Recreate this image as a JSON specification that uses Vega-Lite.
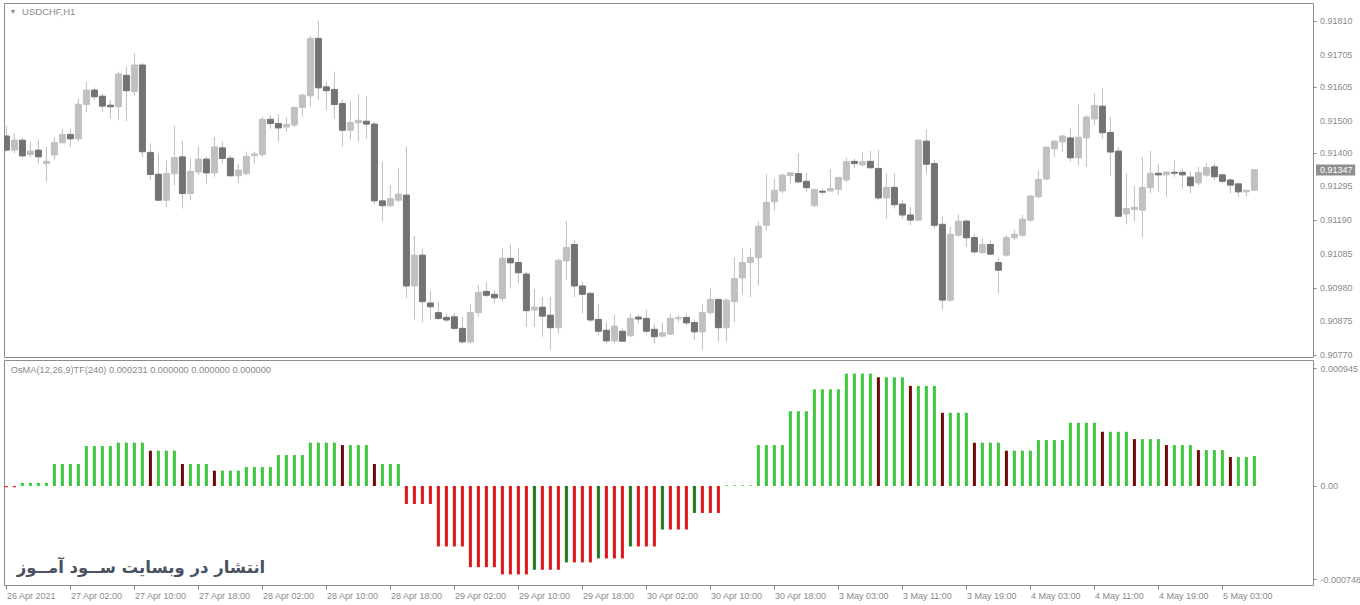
{
"$schema": "https://vega.github.io/schema/vega-lite/v6.json",
"padding": {"left": 3, "top": 2, "right": 0, "bottom": 0},
"background": "white",
"bounds": "flush",
"spacing": 3,
"config": {
 "view": {"stroke": "#8c8c8c", "strokeWidth": 1},
 "axis": {"grid": false, "domain": false, "labelFont": "Liberation Sans", "labelFontSize": 9, "labelColor": "#8a8a8a", "tickColor": "#8a8a8a", "title": null, "labelOverlap": false},
 "text": {"font": "Liberation Sans"}
},
"datasets": {
 "candles": [
{"i":0,"o":0.91452,"h":0.91483,"l":0.91403,"c":0.91408},
{"i":1,"o":0.91408,"h":0.91460,"l":0.91398,"c":0.91439},
{"i":2,"o":0.91439,"h":0.91447,"l":0.91387,"c":0.91390},
{"i":3,"o":0.91394,"h":0.91434,"l":0.91387,"c":0.91405},
{"i":4,"o":0.91408,"h":0.91441,"l":0.91366,"c":0.91387},
{"i":5,"o":0.91366,"h":0.91420,"l":0.91309,"c":0.91373},
{"i":6,"o":0.91393,"h":0.91449,"l":0.91379,"c":0.91432},
{"i":7,"o":0.91431,"h":0.91475,"l":0.91429,"c":0.91457},
{"i":8,"o":0.91457,"h":0.91475,"l":0.91418,"c":0.91443},
{"i":9,"o":0.91443,"h":0.91569,"l":0.91434,"c":0.91551},
{"i":10,"o":0.91550,"h":0.91621,"l":0.91527,"c":0.91595},
{"i":11,"o":0.91595,"h":0.91603,"l":0.91564,"c":0.91574},
{"i":12,"o":0.91576,"h":0.91584,"l":0.91527,"c":0.91545},
{"i":13,"o":0.91548,"h":0.91564,"l":0.91506,"c":0.91543},
{"i":14,"o":0.91543,"h":0.91652,"l":0.91501,"c":0.91645},
{"i":15,"o":0.91641,"h":0.91669,"l":0.91499,"c":0.91593},
{"i":16,"o":0.91590,"h":0.91709,"l":0.91579,"c":0.91673},
{"i":17,"o":0.91673,"h":0.91680,"l":0.91387,"c":0.91403},
{"i":18,"o":0.91401,"h":0.91429,"l":0.91315,"c":0.91332},
{"i":19,"o":0.91333,"h":0.91398,"l":0.91249,"c":0.91252},
{"i":20,"o":0.91252,"h":0.91377,"l":0.91231,"c":0.91335},
{"i":21,"o":0.91335,"h":0.91483,"l":0.91299,"c":0.91385},
{"i":22,"o":0.91387,"h":0.91437,"l":0.91226,"c":0.91273},
{"i":23,"o":0.91273,"h":0.91382,"l":0.91252,"c":0.91342},
{"i":24,"o":0.91340,"h":0.91421,"l":0.91330,"c":0.91380},
{"i":25,"o":0.91380,"h":0.91387,"l":0.91304,"c":0.91337},
{"i":26,"o":0.91337,"h":0.91449,"l":0.91325,"c":0.91418},
{"i":27,"o":0.91415,"h":0.91434,"l":0.91366,"c":0.91382},
{"i":28,"o":0.91383,"h":0.91392,"l":0.91325,"c":0.91328},
{"i":29,"o":0.91328,"h":0.91366,"l":0.91306,"c":0.91346},
{"i":30,"o":0.91335,"h":0.91403,"l":0.91330,"c":0.91389},
{"i":31,"o":0.91391,"h":0.91403,"l":0.91366,"c":0.91396},
{"i":32,"o":0.91394,"h":0.91512,"l":0.91387,"c":0.91504},
{"i":33,"o":0.91504,"h":0.91517,"l":0.91475,"c":0.91491},
{"i":34,"o":0.91491,"h":0.91520,"l":0.91434,"c":0.91477},
{"i":35,"o":0.91480,"h":0.91510,"l":0.91465,"c":0.91488},
{"i":36,"o":0.91486,"h":0.91543,"l":0.91480,"c":0.91541},
{"i":37,"o":0.91541,"h":0.91584,"l":0.91512,"c":0.91579},
{"i":38,"o":0.91577,"h":0.91763,"l":0.91543,"c":0.91756},
{"i":39,"o":0.91756,"h":0.91811,"l":0.91564,"c":0.91602},
{"i":40,"o":0.91605,"h":0.91621,"l":0.91532,"c":0.91593},
{"i":41,"o":0.91597,"h":0.91652,"l":0.91506,"c":0.91550},
{"i":42,"o":0.91553,"h":0.91567,"l":0.91420,"c":0.91470},
{"i":43,"o":0.91470,"h":0.91560,"l":0.91441,"c":0.91494},
{"i":44,"o":0.91493,"h":0.91582,"l":0.91434,"c":0.91501},
{"i":45,"o":0.91498,"h":0.91576,"l":0.91444,"c":0.91489},
{"i":46,"o":0.91489,"h":0.91496,"l":0.91240,"c":0.91250},
{"i":47,"o":0.91250,"h":0.91372,"l":0.91185,"c":0.91235},
{"i":48,"o":0.91235,"h":0.91299,"l":0.91231,"c":0.91257},
{"i":49,"o":0.91252,"h":0.91351,"l":0.91247,"c":0.91271},
{"i":50,"o":0.91268,"h":0.91418,"l":0.90948,"c":0.90985},
{"i":51,"o":0.90985,"h":0.91141,"l":0.90881,"c":0.91081},
{"i":52,"o":0.91081,"h":0.91102,"l":0.90873,"c":0.90936},
{"i":53,"o":0.90932,"h":0.90972,"l":0.90879,"c":0.90920},
{"i":54,"o":0.90902,"h":0.90936,"l":0.90879,"c":0.90884},
{"i":55,"o":0.90887,"h":0.90899,"l":0.90873,"c":0.90879},
{"i":56,"o":0.90889,"h":0.90901,"l":0.90847,"c":0.90853},
{"i":57,"o":0.90853,"h":0.90889,"l":0.90806,"c":0.90811},
{"i":58,"o":0.90811,"h":0.90928,"l":0.90806,"c":0.90902},
{"i":59,"o":0.90902,"h":0.90988,"l":0.90889,"c":0.90965},
{"i":60,"o":0.90968,"h":0.90998,"l":0.90951,"c":0.90956},
{"i":61,"o":0.90959,"h":0.90972,"l":0.90930,"c":0.90948},
{"i":62,"o":0.90946,"h":0.91102,"l":0.90936,"c":0.91071},
{"i":63,"o":0.91071,"h":0.91117,"l":0.90977,"c":0.91057},
{"i":64,"o":0.91058,"h":0.91102,"l":0.90993,"c":0.91026},
{"i":65,"o":0.91022,"h":0.91029,"l":0.90858,"c":0.90908},
{"i":66,"o":0.90910,"h":0.90974,"l":0.90858,"c":0.90919},
{"i":67,"o":0.90919,"h":0.90951,"l":0.90827,"c":0.90891},
{"i":68,"o":0.90894,"h":0.90951,"l":0.90785,"c":0.90855},
{"i":69,"o":0.90855,"h":0.91071,"l":0.90837,"c":0.91065},
{"i":70,"o":0.91063,"h":0.91187,"l":0.91003,"c":0.91105},
{"i":71,"o":0.91114,"h":0.91128,"l":0.90951,"c":0.90985},
{"i":72,"o":0.90985,"h":0.90998,"l":0.90899,"c":0.90959},
{"i":73,"o":0.90962,"h":0.90967,"l":0.90873,"c":0.90879},
{"i":74,"o":0.90881,"h":0.90930,"l":0.90832,"c":0.90844},
{"i":75,"o":0.90847,"h":0.90873,"l":0.90806,"c":0.90814},
{"i":76,"o":0.90814,"h":0.90894,"l":0.90806,"c":0.90860},
{"i":77,"o":0.90844,"h":0.90853,"l":0.90811,"c":0.90813},
{"i":78,"o":0.90830,"h":0.90899,"l":0.90827,"c":0.90884},
{"i":79,"o":0.90888,"h":0.90896,"l":0.90868,"c":0.90882},
{"i":80,"o":0.90884,"h":0.90910,"l":0.90837,"c":0.90844},
{"i":81,"o":0.90850,"h":0.90868,"l":0.90806,"c":0.90827},
{"i":82,"o":0.90829,"h":0.90870,"l":0.90825,"c":0.90839},
{"i":83,"o":0.90835,"h":0.90897,"l":0.90832,"c":0.90884},
{"i":84,"o":0.90883,"h":0.90894,"l":0.90873,"c":0.90886},
{"i":85,"o":0.90887,"h":0.90899,"l":0.90863,"c":0.90870},
{"i":86,"o":0.90871,"h":0.90879,"l":0.90816,"c":0.90842},
{"i":87,"o":0.90842,"h":0.90928,"l":0.90785,"c":0.90902},
{"i":88,"o":0.90902,"h":0.90977,"l":0.90894,"c":0.90943},
{"i":89,"o":0.90943,"h":0.90946,"l":0.90811,"c":0.90855},
{"i":90,"o":0.90855,"h":0.90946,"l":0.90811,"c":0.90941},
{"i":91,"o":0.90936,"h":0.91074,"l":0.90873,"c":0.91008},
{"i":92,"o":0.91010,"h":0.91102,"l":0.90959,"c":0.91058},
{"i":93,"o":0.91058,"h":0.91102,"l":0.90951,"c":0.91074},
{"i":94,"o":0.91073,"h":0.91185,"l":0.90988,"c":0.91171},
{"i":95,"o":0.91174,"h":0.91333,"l":0.91159,"c":0.91245},
{"i":96,"o":0.91247,"h":0.91320,"l":0.91221,"c":0.91283},
{"i":97,"o":0.91281,"h":0.91335,"l":0.91273,"c":0.91330},
{"i":98,"o":0.91329,"h":0.91340,"l":0.91304,"c":0.91337},
{"i":99,"o":0.91335,"h":0.91398,"l":0.91306,"c":0.91309},
{"i":100,"o":0.91311,"h":0.91337,"l":0.91278,"c":0.91291},
{"i":101,"o":0.91235,"h":0.91286,"l":0.91231,"c":0.91286},
{"i":102,"o":0.91280,"h":0.91288,"l":0.91268,"c":0.91277},
{"i":103,"o":0.91281,"h":0.91349,"l":0.91278,"c":0.91288},
{"i":104,"o":0.91286,"h":0.91325,"l":0.91268,"c":0.91323},
{"i":105,"o":0.91315,"h":0.91384,"l":0.91309,"c":0.91372},
{"i":106,"o":0.91373,"h":0.91382,"l":0.91351,"c":0.91366},
{"i":107,"o":0.91362,"h":0.91401,"l":0.91356,"c":0.91372},
{"i":108,"o":0.91373,"h":0.91405,"l":0.91351,"c":0.91353},
{"i":109,"o":0.91351,"h":0.91408,"l":0.91252,"c":0.91259},
{"i":110,"o":0.91259,"h":0.91335,"l":0.91195,"c":0.91292},
{"i":111,"o":0.91292,"h":0.91335,"l":0.91226,"c":0.91238},
{"i":112,"o":0.91240,"h":0.91252,"l":0.91195,"c":0.91206},
{"i":113,"o":0.91206,"h":0.91231,"l":0.91174,"c":0.91190},
{"i":114,"o":0.91190,"h":0.91441,"l":0.91188,"c":0.91439},
{"i":115,"o":0.91436,"h":0.91472,"l":0.91335,"c":0.91364},
{"i":116,"o":0.91366,"h":0.91377,"l":0.91164,"c":0.91174},
{"i":117,"o":0.91177,"h":0.91200,"l":0.90910,"c":0.90941},
{"i":118,"o":0.90941,"h":0.91169,"l":0.90936,"c":0.91146},
{"i":119,"o":0.91143,"h":0.91208,"l":0.91138,"c":0.91187},
{"i":120,"o":0.91187,"h":0.91192,"l":0.91107,"c":0.91135},
{"i":121,"o":0.91136,"h":0.91148,"l":0.91086,"c":0.91091},
{"i":122,"o":0.91089,"h":0.91133,"l":0.91086,"c":0.91114},
{"i":123,"o":0.91114,"h":0.91128,"l":0.91081,"c":0.91084},
{"i":124,"o":0.91058,"h":0.91074,"l":0.90962,"c":0.91034},
{"i":125,"o":0.91081,"h":0.91143,"l":0.91076,"c":0.91136},
{"i":126,"o":0.91135,"h":0.91159,"l":0.91128,"c":0.91146},
{"i":127,"o":0.91143,"h":0.91206,"l":0.91138,"c":0.91193},
{"i":128,"o":0.91190,"h":0.91268,"l":0.91185,"c":0.91265},
{"i":129,"o":0.91263,"h":0.91346,"l":0.91257,"c":0.91317},
{"i":130,"o":0.91318,"h":0.91420,"l":0.91315,"c":0.91417},
{"i":131,"o":0.91412,"h":0.91439,"l":0.91387,"c":0.91436},
{"i":132,"o":0.91434,"h":0.91455,"l":0.91403,"c":0.91452},
{"i":133,"o":0.91446,"h":0.91477,"l":0.91372,"c":0.91384},
{"i":134,"o":0.91384,"h":0.91550,"l":0.91361,"c":0.91448},
{"i":135,"o":0.91446,"h":0.91517,"l":0.91356,"c":0.91511},
{"i":136,"o":0.91505,"h":0.91584,"l":0.91486,"c":0.91547},
{"i":137,"o":0.91545,"h":0.91600,"l":0.91444,"c":0.91462},
{"i":138,"o":0.91463,"h":0.91512,"l":0.91327,"c":0.91402},
{"i":139,"o":0.91405,"h":0.91418,"l":0.91200,"c":0.91202},
{"i":140,"o":0.91209,"h":0.91335,"l":0.91177,"c":0.91226},
{"i":141,"o":0.91223,"h":0.91297,"l":0.91185,"c":0.91230},
{"i":142,"o":0.91221,"h":0.91387,"l":0.91136,"c":0.91292},
{"i":143,"o":0.91291,"h":0.91406,"l":0.91275,"c":0.91336},
{"i":144,"o":0.91336,"h":0.91366,"l":0.91278,"c":0.91331},
{"i":145,"o":0.91331,"h":0.91340,"l":0.91263,"c":0.91340},
{"i":146,"o":0.91339,"h":0.91377,"l":0.91325,"c":0.91336},
{"i":147,"o":0.91339,"h":0.91351,"l":0.91288,"c":0.91331},
{"i":148,"o":0.91324,"h":0.91343,"l":0.91273,"c":0.91297},
{"i":149,"o":0.91306,"h":0.91356,"l":0.91299,"c":0.91338},
{"i":150,"o":0.91330,"h":0.91366,"l":0.91325,"c":0.91354},
{"i":151,"o":0.91356,"h":0.91366,"l":0.91315,"c":0.91325},
{"i":152,"o":0.91331,"h":0.91335,"l":0.91304,"c":0.91311},
{"i":153,"o":0.91315,"h":0.91320,"l":0.91273,"c":0.91299},
{"i":154,"o":0.91303,"h":0.91304,"l":0.91263,"c":0.91278},
{"i":155,"o":0.91278,"h":0.91285,"l":0.91263,"c":0.91283},
{"i":156,"o":0.91283,"h":0.91348,"l":0.91281,"c":0.91347}
 ],
 "osma": [
{"i":0,"v":-0.00001,"k":"r"},{"i":1,"v":-0.00001,"k":"r"},
{"i":2,"v":0.000025,"k":"g"},{"i":3,"v":0.000025,"k":"g"},{"i":4,"v":0.000025,"k":"g"},{"i":5,"v":0.000025,"k":"g"},
{"i":6,"v":0.000176,"k":"g"},{"i":7,"v":0.000176,"k":"g"},{"i":8,"v":0.000176,"k":"g"},{"i":9,"v":0.000176,"k":"g"},
{"i":10,"v":0.00032,"k":"g"},{"i":11,"v":0.00032,"k":"g"},{"i":12,"v":0.00032,"k":"g"},{"i":13,"v":0.00032,"k":"g"},
{"i":14,"v":0.000347,"k":"g"},{"i":15,"v":0.000347,"k":"g"},{"i":16,"v":0.000347,"k":"g"},{"i":17,"v":0.000347,"k":"g"},
{"i":18,"v":0.000283,"k":"m"},{"i":19,"v":0.000283,"k":"g"},{"i":20,"v":0.000283,"k":"g"},{"i":21,"v":0.000283,"k":"g"},
{"i":22,"v":0.000176,"k":"m"},{"i":23,"v":0.000176,"k":"g"},{"i":24,"v":0.000176,"k":"g"},{"i":25,"v":0.000176,"k":"g"},
{"i":26,"v":0.000123,"k":"m"},{"i":27,"v":0.000123,"k":"g"},{"i":28,"v":0.000123,"k":"g"},{"i":29,"v":0.000123,"k":"g"},
{"i":30,"v":0.000152,"k":"g"},{"i":31,"v":0.000152,"k":"g"},{"i":32,"v":0.000152,"k":"g"},{"i":33,"v":0.000152,"k":"g"},
{"i":34,"v":0.000248,"k":"g"},{"i":35,"v":0.000248,"k":"g"},{"i":36,"v":0.000248,"k":"g"},{"i":37,"v":0.000248,"k":"g"},
{"i":38,"v":0.000347,"k":"g"},{"i":39,"v":0.000347,"k":"g"},{"i":40,"v":0.000347,"k":"g"},{"i":41,"v":0.000347,"k":"g"},
{"i":42,"v":0.000328,"k":"m"},{"i":43,"v":0.000328,"k":"g"},{"i":44,"v":0.000328,"k":"g"},{"i":45,"v":0.000328,"k":"g"},
{"i":46,"v":0.000176,"k":"m"},{"i":47,"v":0.000176,"k":"g"},{"i":48,"v":0.000176,"k":"g"},{"i":49,"v":0.000176,"k":"g"},
{"i":50,"v":-0.000144,"k":"r"},{"i":51,"v":-0.000144,"k":"r"},{"i":52,"v":-0.000144,"k":"r"},{"i":53,"v":-0.000144,"k":"r"},
{"i":54,"v":-0.000485,"k":"r"},{"i":55,"v":-0.000485,"k":"r"},{"i":56,"v":-0.000485,"k":"r"},{"i":57,"v":-0.000485,"k":"r"},
{"i":58,"v":-0.000651,"k":"r"},{"i":59,"v":-0.000651,"k":"r"},{"i":60,"v":-0.000651,"k":"r"},{"i":61,"v":-0.000651,"k":"r"},
{"i":62,"v":-0.000709,"k":"r"},{"i":63,"v":-0.000709,"k":"r"},{"i":64,"v":-0.000709,"k":"r"},{"i":65,"v":-0.000709,"k":"r"},
{"i":66,"v":-0.000672,"k":"d"},{"i":67,"v":-0.000672,"k":"r"},{"i":68,"v":-0.000672,"k":"r"},{"i":69,"v":-0.000672,"k":"r"},
{"i":70,"v":-0.000613,"k":"d"},{"i":71,"v":-0.000613,"k":"r"},{"i":72,"v":-0.000613,"k":"r"},{"i":73,"v":-0.000613,"k":"r"},
{"i":74,"v":-0.000581,"k":"d"},{"i":75,"v":-0.000581,"k":"r"},{"i":76,"v":-0.000581,"k":"r"},{"i":77,"v":-0.000581,"k":"r"},
{"i":78,"v":-0.000485,"k":"d"},{"i":79,"v":-0.000485,"k":"r"},{"i":80,"v":-0.000485,"k":"r"},{"i":81,"v":-0.000485,"k":"r"},
{"i":82,"v":-0.000349,"k":"d"},{"i":83,"v":-0.000349,"k":"r"},{"i":84,"v":-0.000349,"k":"r"},{"i":85,"v":-0.000349,"k":"r"},
{"i":86,"v":-0.000216,"k":"d"},{"i":87,"v":-0.000216,"k":"r"},{"i":88,"v":-0.000216,"k":"r"},{"i":89,"v":-0.000216,"k":"r"},
{"i":90,"v":0.000006,"k":"g"},{"i":91,"v":0.000006,"k":"g"},{"i":92,"v":0.000006,"k":"g"},{"i":93,"v":0.000006,"k":"g"},
{"i":94,"v":0.000328,"k":"g"},{"i":95,"v":0.000328,"k":"g"},{"i":96,"v":0.000328,"k":"g"},{"i":97,"v":0.000328,"k":"g"},
{"i":98,"v":0.0006,"k":"g"},{"i":99,"v":0.0006,"k":"g"},{"i":100,"v":0.0006,"k":"g"},
{"i":101,"v":0.000776,"k":"g"},{"i":102,"v":0.000776,"k":"g"},{"i":103,"v":0.000776,"k":"g"},{"i":104,"v":0.000776,"k":"g"},
{"i":105,"v":0.000901,"k":"g"},{"i":106,"v":0.000901,"k":"g"},{"i":107,"v":0.000901,"k":"g"},{"i":108,"v":0.000901,"k":"g"},
{"i":109,"v":0.000872,"k":"m"},{"i":110,"v":0.000872,"k":"g"},{"i":111,"v":0.000872,"k":"g"},{"i":112,"v":0.000872,"k":"g"},
{"i":113,"v":0.000803,"k":"m"},{"i":114,"v":0.000803,"k":"g"},{"i":115,"v":0.000803,"k":"g"},{"i":116,"v":0.000803,"k":"g"},
{"i":117,"v":0.000587,"k":"m"},{"i":118,"v":0.000587,"k":"g"},{"i":119,"v":0.000587,"k":"g"},{"i":120,"v":0.000587,"k":"g"},
{"i":121,"v":0.000347,"k":"m"},{"i":122,"v":0.000347,"k":"g"},{"i":123,"v":0.000347,"k":"g"},{"i":124,"v":0.000347,"k":"g"},
{"i":125,"v":0.000283,"k":"m"},{"i":126,"v":0.000283,"k":"g"},{"i":127,"v":0.000283,"k":"g"},{"i":128,"v":0.000283,"k":"g"},
{"i":129,"v":0.000368,"k":"g"},{"i":130,"v":0.000368,"k":"g"},{"i":131,"v":0.000368,"k":"g"},{"i":132,"v":0.000368,"k":"g"},
{"i":133,"v":0.000507,"k":"g"},{"i":134,"v":0.000507,"k":"g"},{"i":135,"v":0.000507,"k":"g"},{"i":136,"v":0.000507,"k":"g"},
{"i":137,"v":0.000435,"k":"m"},{"i":138,"v":0.000435,"k":"g"},{"i":139,"v":0.000435,"k":"g"},{"i":140,"v":0.000435,"k":"g"},
{"i":141,"v":0.000376,"k":"m"},{"i":142,"v":0.000376,"k":"g"},{"i":143,"v":0.000376,"k":"g"},{"i":144,"v":0.000376,"k":"g"},
{"i":145,"v":0.000328,"k":"m"},{"i":146,"v":0.000328,"k":"g"},{"i":147,"v":0.000328,"k":"g"},{"i":148,"v":0.000328,"k":"g"},
{"i":149,"v":0.000288,"k":"m"},{"i":150,"v":0.000288,"k":"g"},{"i":151,"v":0.000288,"k":"g"},{"i":152,"v":0.000288,"k":"g"},
{"i":153,"v":0.000232,"k":"m"},{"i":154,"v":0.000232,"k":"g"},{"i":155,"v":0.000232,"k":"g"},{"i":156,"v":0.00024,"k":"g"}
 ],
 "yticks": [
{"v":0.9077,"t":"0.90770"},{"v":0.90875,"t":"0.90875"},{"v":0.9098,"t":"0.90980"},{"v":0.91085,"t":"0.91085"},
{"v":0.9119,"t":"0.91190"},{"v":0.91295,"t":"0.91295"},{"v":0.914,"t":"0.91400"},{"v":0.915,"t":"0.91500"},
{"v":0.91605,"t":"0.91605"},{"v":0.91705,"t":"0.91705"},{"v":0.9181,"t":"0.91810"}
 ],
 "last": [{"x1":163.7,"x2":168.6,"hi":0.91363,"lo":0.91329,"p":0.91347,"t":"0.91347"}]
},
"vconcat": [
 {
  "width": 1309, "height": 354,
  "layer": [
   {"data": {"name": "candles"},
    "mark": {"type": "rule", "clip": true, "color": "#bdbdbd", "strokeWidth": 1},
    "encoding": {
     "x": {"field": "i", "type": "quantitative", "scale": {"domain": [-0.3, 163.325], "nice": false, "zero": false, "padding": 0}, "axis": null},
     "y": {"field": "l", "type": "quantitative", "scale": {"domain": [0.907638, 0.918661], "nice": false, "zero": false, "padding": 0},
           "axis": {"orient": "right", "values": [0.9077, 0.90875, 0.9098, 0.91085, 0.9119, 0.91295, 0.914, 0.915, 0.91605, 0.91705, 0.9181], "labels": false, "tickSize": 3}},
     "y2": {"field": "h"}
    }},
   {"data": {"name": "candles"},
    "mark": {"type": "bar", "clip": true, "width": 6, "strokeWidth": 1},
    "encoding": {
     "x": {"field": "i", "type": "quantitative", "axis": null},
     "y": {"field": "o", "type": "quantitative"},
     "y2": {"field": "c"},
     "color": {"condition": {"test": "datum.c >= datum.o", "value": "#c0c0c0"}, "value": "#737373"},
     "stroke": {"condition": {"test": "datum.c >= datum.o", "value": "#c0c0c0"}, "value": "#737373"}
    }},
   {"data": {"values": [{"t": "▼"}]},
    "mark": {"type": "text", "align": "center", "baseline": "middle", "fontSize": 7, "color": "#8a8a8a"},
    "encoding": {"x": {"datum": 0.83, "type": "quantitative", "axis": null}, "y": {"datum": 0.91839, "type": "quantitative"}, "text": {"field": "t"}}},
   {"data": {"values": [{"t": "USDCHF,H1"}]},
    "mark": {"type": "text", "align": "left", "baseline": "middle", "fontSize": 9.5, "color": "#8a8a8a"},
    "encoding": {"x": {"datum": 1.96, "type": "quantitative", "axis": null}, "y": {"datum": 0.91839, "type": "quantitative"}, "text": {"field": "t"}}},
   {"data": {"name": "yticks"},
    "mark": {"type": "text", "clip": false, "align": "left", "baseline": "middle", "fontSize": 9, "color": "#8a8a8a"},
    "encoding": {"x": {"datum": 164.2, "type": "quantitative", "axis": null}, "y": {"field": "v", "type": "quantitative"}, "text": {"field": "t"}}},
   {"data": {"name": "last"},
    "mark": {"type": "rect", "clip": false, "color": "#8f8f8f"},
    "encoding": {"x": {"field": "x1", "type": "quantitative", "axis": null}, "x2": {"field": "x2"}, "y": {"field": "hi", "type": "quantitative"}, "y2": {"field": "lo"}}},
   {"data": {"name": "last"},
    "mark": {"type": "text", "clip": false, "align": "left", "baseline": "middle", "fontSize": 9, "color": "white"},
    "encoding": {"x": {"datum": 164.2, "type": "quantitative", "axis": null}, "y": {"field": "p", "type": "quantitative"}, "text": {"field": "t"}}}
  ]
 },
 {
  "width": 1309, "height": 225,
  "layer": [
   {"data": {"name": "osma"},
    "mark": {"type": "bar", "clip": true, "width": 3},
    "encoding": {
     "x": {"field": "i", "type": "quantitative", "scale": {"domain": [-0.3, 163.325], "nice": false, "zero": false, "padding": 0},
           "axis": {"values": [0,8,16,24,32,40,48,56,64,72,80,88,96,104,112,120,128,136,144,152],
                    "labelExpr": "['26 Apr 2021','27 Apr 02:00','27 Apr 10:00','27 Apr 18:00','28 Apr 02:00','28 Apr 10:00','28 Apr 18:00','29 Apr 02:00','29 Apr 10:00','29 Apr 18:00','30 Apr 02:00','30 Apr 10:00','30 Apr 18:00','3 May 03:00','3 May 11:00','3 May 19:00','4 May 03:00','4 May 11:00','4 May 19:00','5 May 03:00'][round(datum.value/8)]",
                    "labelAlign": "left", "labelBaseline": "top", "tickSize": 4, "labelPadding": 2, "labelOverlap": false, "labelFlush": false}},
     "y": {"field": "v", "type": "quantitative", "scale": {"domain": [-0.000794, 0.0010105], "nice": false, "zero": false, "padding": 0},
           "axis": {"orient": "right", "values": [-0.000748, 0, 0.000945], "labelExpr": "datum.value > 0 ? '0.000945' : (datum.value < 0 ? '-0.000748' : '0.00')", "tickSize": 3, "labelPadding": 4, "labelBaseline": "middle"}},
     "y2": {"datum": 0},
     "color": {"field": "k", "type": "nominal", "scale": {"domain": ["g", "r", "m", "d"], "range": ["#3dc83d", "#e01515", "#6e0606", "#1a7d1a"]}, "legend": null}
    }},
   {"data": {"values": [{"t": "OsMA(12,26,9)TF(240) 0.000231 0.000000 0.000000 0.000000"}]},
    "mark": {"type": "text", "align": "left", "baseline": "middle", "fontSize": 9.25, "color": "#8a8a8a"},
    "encoding": {"x": {"datum": 0.55, "type": "quantitative"}, "y": {"datum": 0.00093, "type": "quantitative"}, "text": {"field": "t"}}},
   {"data": {"values": [{"t": "انتشار در وبسایت ســود آمــوز"}]},
    "mark": {"type": "text", "align": "left", "baseline": "middle", "fontSize": 16.5, "fontWeight": "bold", "font": "DejaVu Sans", "color": "#4a5262"},
    "encoding": {"x": {"datum": 1.3, "type": "quantitative"}, "y": {"datum": -0.000658, "type": "quantitative"}, "text": {"field": "t"}}}
  ]
 }
]
}
